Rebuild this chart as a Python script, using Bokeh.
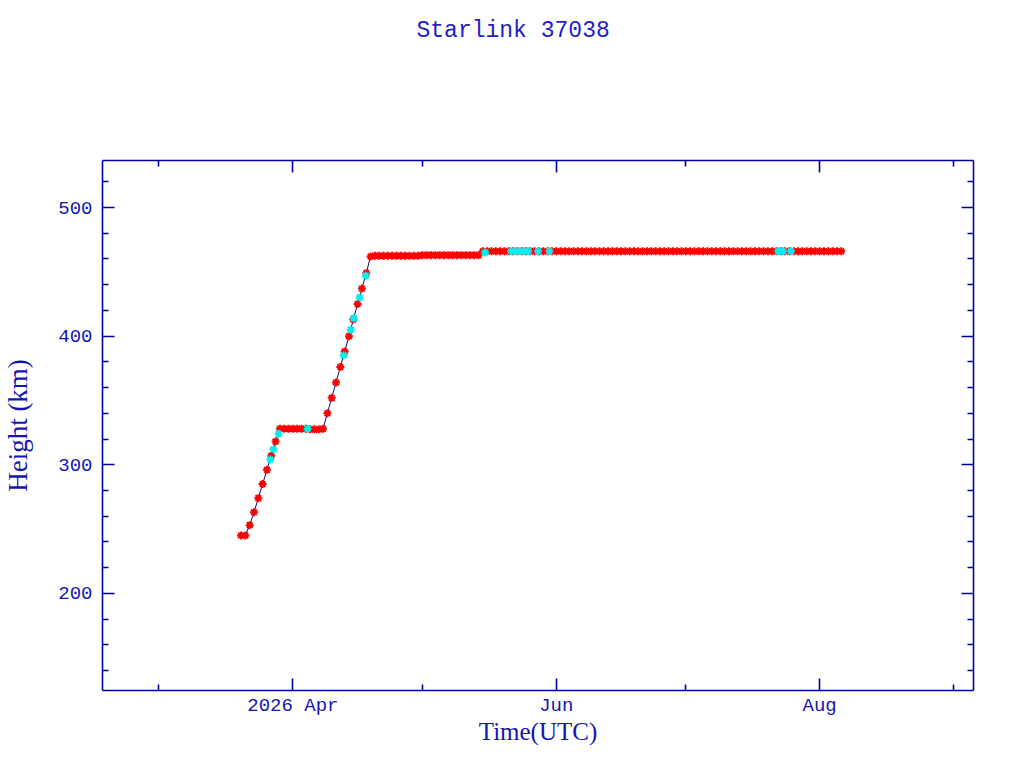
import numpy as np
import pandas as pd
from bokeh.plotting import figure
from bokeh.models import FixedTicker, LinearAxis, Range1d
from bokeh.embed import file_html
from bokeh.resources import INLINE

title_text = "Starlink 37038"
x_label = "Time(UTC)"
y_label = "Height (km)"

red_dates = [
    "2026-03-20", "2026-03-21", "2026-03-22", "2026-03-23", "2026-03-24", "2026-03-25",
    "2026-03-26", "2026-03-27", "2026-03-28", "2026-03-29", "2026-03-30", "2026-03-31",
    "2026-04-01", "2026-04-02", "2026-04-03", "2026-04-04", "2026-04-05", "2026-04-06",
    "2026-04-07", "2026-04-08", "2026-04-09", "2026-04-10", "2026-04-11", "2026-04-12",
    "2026-04-13", "2026-04-14", "2026-04-15", "2026-04-16", "2026-04-17", "2026-04-18",
    "2026-04-19", "2026-04-20", "2026-04-21", "2026-04-22", "2026-04-23", "2026-04-24",
    "2026-04-25", "2026-04-26", "2026-04-27", "2026-04-28", "2026-04-29", "2026-04-30",
    "2026-05-01", "2026-05-02", "2026-05-03", "2026-05-04", "2026-05-05", "2026-05-06",
    "2026-05-07", "2026-05-08", "2026-05-09", "2026-05-10", "2026-05-11", "2026-05-12",
    "2026-05-13", "2026-05-14", "2026-05-15", "2026-05-16", "2026-05-17", "2026-05-18",
    "2026-05-19", "2026-05-20", "2026-05-21", "2026-05-22", "2026-05-23", "2026-05-24",
    "2026-05-25", "2026-05-26", "2026-05-27", "2026-05-28", "2026-05-29", "2026-05-30",
    "2026-05-31", "2026-06-01", "2026-06-02", "2026-06-03", "2026-06-04", "2026-06-05",
    "2026-06-06", "2026-06-07", "2026-06-08", "2026-06-09", "2026-06-10", "2026-06-11",
    "2026-06-12", "2026-06-13", "2026-06-14", "2026-06-15", "2026-06-16", "2026-06-17",
    "2026-06-18", "2026-06-19", "2026-06-20", "2026-06-21", "2026-06-22", "2026-06-23",
    "2026-06-24", "2026-06-25", "2026-06-26", "2026-06-27", "2026-06-28", "2026-06-29",
    "2026-06-30", "2026-07-01", "2026-07-02", "2026-07-03", "2026-07-04", "2026-07-05",
    "2026-07-06", "2026-07-07", "2026-07-08", "2026-07-09", "2026-07-10", "2026-07-11",
    "2026-07-12", "2026-07-13", "2026-07-14", "2026-07-15", "2026-07-16", "2026-07-17",
    "2026-07-18", "2026-07-19", "2026-07-20", "2026-07-21", "2026-07-22", "2026-07-23",
    "2026-07-24", "2026-07-25", "2026-07-26", "2026-07-27", "2026-07-28", "2026-07-29",
    "2026-07-30", "2026-07-31", "2026-08-01", "2026-08-02", "2026-08-03", "2026-08-04",
    "2026-08-05", "2026-08-06",
]
red_heights = [
    245, 245, 253, 263, 274, 285,
    296, 307, 318, 328, 328, 328,
    328, 328, 328, 328, 327.5, 327.5,
    327.5, 328, 340, 352, 364, 376,
    388, 400, 413, 425, 437, 449,
    462, 462.5, 462.5, 462.5, 462.5, 462.5,
    462.5, 462.5, 462.5, 462.5, 462.5, 462.5,
    463, 463, 463, 463, 463, 463,
    463, 463, 463, 463, 463, 463,
    463, 463, 466, 466, 466, 466,
    466, 466, 466, 466, 466, 466,
    466, 466, 466, 466, 466, 466,
    466, 466, 466, 466, 466, 466,
    466, 466, 466, 466, 466, 466,
    466, 466, 466, 466, 466, 466,
    466, 466, 466, 466, 466, 466,
    466, 466, 466, 466, 466, 466,
    466, 466, 466, 466, 466, 466,
    466, 466, 466, 466, 466, 466,
    466, 466, 466, 466, 466, 466,
    466, 466, 466, 466, 466, 466,
    466, 466, 466, 466, 466, 466,
    466, 466, 466, 466, 466, 466,
    466, 466,
]
cyan_dates = [
    "2026-03-26 19:00", "2026-03-27 12:00", "2026-03-28 17:00", "2026-04-04 10:00",
    "2026-04-12 18:00", "2026-04-14 10:00", "2026-04-15 02:00", "2026-04-16 11:00",
    "2026-04-17 21:00", "2026-05-15 12:00", "2026-05-21 14:00", "2026-05-22 12:00",
    "2026-05-23 12:00", "2026-05-24 12:00", "2026-05-25 12:00", "2026-05-27 19:00",
    "2026-05-30 10:00", "2026-07-22 10:00", "2026-07-23 12:00", "2026-07-25 08:00",
]
cyan_heights = [
    304, 312, 324, 328,
    385, 405, 414, 430,
    447, 465, 466, 466,
    466, 466, 466, 466,
    466, 466, 466, 466,
]

x_major_dates = ["2026-04-01", "2026-06-01", "2026-08-01"]
x_major_labels = ["2026 Apr", "Jun", "Aug"]
x_minor_dates = ["2026-03-01", "2026-05-01", "2026-07-01", "2026-09-01"]
x_limits = ["2026-02-15 22:00", "2026-09-05 15:00"]
y_major = [200, 300, 400, 500]
y_minor = [140, 160, 180, 220, 240, 260, 280, 320, 340, 360, 380,
           420, 440, 460, 480, 520]
y_limits = [124.4, 536.6]


def to_ms(dates):
    return pd.to_datetime(dates).values.astype("datetime64[ms]").astype("int64").astype(float)


red_x = to_ms(red_dates)
cyan_x = to_ms(cyan_dates)
xmaj = to_ms(x_major_dates)
xmin = to_ms(x_minor_dates)
xlim = to_ms(x_limits)

AX = "#0000A8"
TXT = "#1414B4"

W, H = 1008, 752
ML, MR, MT, MB = 102, 35, 10, 62

p = figure(width=W, height=H, output_backend="svg", toolbar_location=None,
           x_axis_type=None, y_axis_type=None,
           x_range=Range1d(xlim[0], xlim[1]), y_range=Range1d(y_limits[0], y_limits[1]),
           min_border_left=ML, min_border_right=MR, min_border_top=MT, min_border_bottom=MB)
p.outline_line_color = None
p.background_fill_color = "white"
p.border_fill_color = "white"

p.title.text = title_text
p.title.align = "left"
p.title.offset = 314
p.title.vertical_align = "top"
p.title.standoff = 34
p.title.text_font = "Liberation Mono"
p.title.text_font_size = "23px"
p.title.text_font_style = "normal"
p.title.text_color = "#1E1EC8"


def style(ax, show_labels):
    ax.axis_line_color = AX
    ax.axis_line_width = 1.6
    ax.major_tick_line_color = AX
    ax.major_tick_line_width = 1.6
    ax.minor_tick_line_color = AX
    ax.minor_tick_line_width = 1.6
    ax.major_tick_in = 12
    ax.major_tick_out = 0
    ax.minor_tick_in = 6
    ax.minor_tick_out = 0
    ax.major_label_text_font = "Liberation Mono"
    ax.major_label_text_font_size = "19px"
    ax.major_label_text_color = TXT
    ax.axis_label_text_font = "Liberation Serif"
    ax.axis_label_text_font_size = "25px"
    ax.axis_label_text_font_style = "normal"
    ax.axis_label_text_color = TXT
    if not show_labels:
        ax.major_label_text_font_size = "0px"
        ax.major_label_standoff = 0


xt = FixedTicker(ticks=list(xmaj), minor_ticks=list(xmin))
yt = FixedTicker(ticks=y_major, minor_ticks=y_minor)

bottom = LinearAxis(ticker=xt, axis_label=x_label)
style(bottom, True)
bottom.major_label_overrides = {float(t): lab for t, lab in zip(xmaj, x_major_labels)}
bottom.major_label_standoff = 4
bottom.axis_label_standoff = -2
p.add_layout(bottom, "below")

# top frame edge: ticks only; blank labels reserve the band between frame and title
top = LinearAxis(ticker=xt)
style(top, True)
top.major_label_overrides = {float(t): " " for t in xmaj}
top.major_label_standoff = 73
p.add_layout(top, "above")

left = LinearAxis(ticker=yt, axis_label=y_label)
style(left, True)
left.axis_label_text_font_size = "27px"
left.major_label_standoff = 10
left.axis_label_standoff = 22
p.add_layout(left, "left")

right = LinearAxis(ticker=yt)
style(right, False)
right.major_label_overrides = {t: "" for t in y_major}
p.add_layout(right, "right")

p.line(red_x, red_heights, line_color="#0A0A8C", line_width=1)
p.scatter(red_x, red_heights, marker="asterisk", size=8, line_color="#FF0000", line_width=2)
p.scatter(cyan_x, cyan_heights, marker="asterisk", size=8, line_color="#00F0F0", line_width=2)

open("out.html", "w").write(file_html(p, INLINE))
